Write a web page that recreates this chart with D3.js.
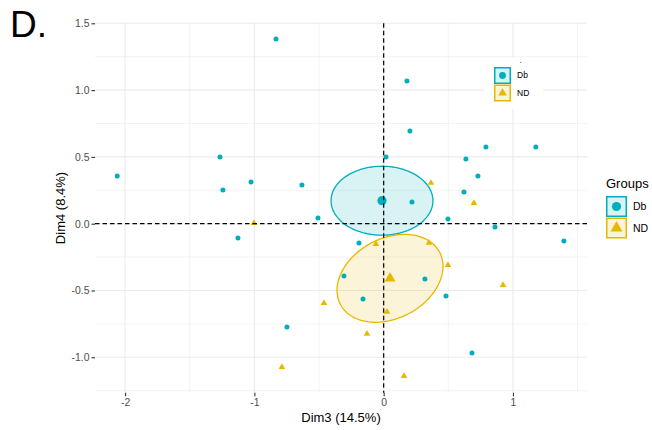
<!DOCTYPE html>
<html>
<head>
<meta charset="utf-8">
<script src="https://cdn.jsdelivr.net/npm/d3@7"></script>
<style>
  body { margin: 0; background: #fff; }
  text { font-family: "Liberation Sans", Arial, sans-serif; }
</style>
</head>
<body>
<div id="chart"></div>
<script>
// Individuals, Db group (Dim3, Dim4)
const dbX = [-0.833, -2.061, -1.266, -1.243, -1.026, -0.632, 0.018, 0.180, 0.203, 0.791,
             1.177, 0.636, 0.729, 0.621, 0.219, -0.508, -1.127, -0.191, -0.307, -0.160,
             -0.748, 0.497, 0.861, 1.394, 0.319, 0.482, 0.683];
const dbY = [1.383, 0.357, 0.499, 0.252, 0.312, 0.290, 0.499, 1.068, 0.694, 0.574,
             0.574, 0.484, 0.357, 0.237, 0.162, 0.043, -0.107, -0.144, -0.391, -0.563,
             -0.773, 0.035, -0.025, -0.129, -0.414, -0.541, -0.968];

// Individuals, ND group
const ndX = [0.366, 0.698, -1.003, -0.060, -0.462, 0.026, -0.129, -0.787, 0.350, 0.497, 0.923, 0.157];
const ndY = [0.305, 0.155, 0.005, -0.152, -0.594, -0.660, -0.825, -1.073, -0.144, -0.309, -0.459, -1.140];

// group means and ellipses (centre, half-extent x, half-extent y, correlation)
const groups = ["Db", "ND"];
const groupColors = ["#00AFBB", "#E7B800"];
const meanX = [-0.013, 0.049];
const meanY = [0.172, -0.409];
const ellSx = [0.394, 0.410];
const ellSy = [0.258, 0.329];
const ellR = [0.0, 0.273];

const xTicks = [-2, -1, 0, 1];
const yTicks = [-1.0, -0.5, 0.0, 0.5, 1.0, 1.5];
const xMinor = [-1.5, -0.5, 0.5, 1.5];
const yMinor = [-1.25, -0.75, -0.25, 0.25, 0.75, 1.25];

const W = 652, H = 430;
const panel = { left: 95, right: 587, top: 23.3, bottom: 392.7 };

const svg = d3.select("#chart").append("svg")
    .attr("width", W)
    .attr("height", H);

const x = d3.scaleLinear()
    .domain([-2.2328, 1.5727])
    .range([panel.left, panel.right]);

const y = d3.scaleLinear()
    .domain([-1.265, 1.5])
    .range([panel.bottom, panel.top]);

// grid
const grid = svg.append("g");
grid.selectAll(".xminor").data(xMinor).enter().append("line")
    .attr("x1", d => x(d)).attr("x2", d => x(d))
    .attr("y1", panel.top).attr("y2", panel.bottom)
    .attr("stroke", "#EBEBEB").attr("stroke-width", 0.6);
grid.selectAll(".yminor").data(yMinor).enter().append("line")
    .attr("y1", d => y(d)).attr("y2", d => y(d))
    .attr("x1", panel.left).attr("x2", panel.right)
    .attr("stroke", "#EBEBEB").attr("stroke-width", 0.6);
grid.selectAll(".xmajor").data(xTicks).enter().append("line")
    .attr("x1", d => x(d)).attr("x2", d => x(d))
    .attr("y1", panel.top).attr("y2", panel.bottom)
    .attr("stroke", "#EBEBEB").attr("stroke-width", 1.1);
grid.selectAll(".ymajor").data(yTicks).enter().append("line")
    .attr("y1", d => y(d)).attr("y2", d => y(d))
    .attr("x1", panel.left).attr("x2", panel.right)
    .attr("stroke", "#EBEBEB").attr("stroke-width", 1.1);

// axes
const xAxis = svg.append("g")
    .attr("transform", `translate(0,${panel.bottom})`)
    .call(d3.axisBottom(x).tickValues(xTicks).tickSize(3.5).tickPadding(2).tickFormat(d3.format("d")));
const yAxis = svg.append("g")
    .attr("transform", `translate(${panel.left},0)`)
    .call(d3.axisLeft(y).tickValues(yTicks).tickSize(3.5).tickPadding(2).tickFormat(d3.format(".1f")));
[xAxis, yAxis].forEach(a => {
    a.select(".domain").remove();
    a.selectAll(".tick line").attr("stroke", "#333333").attr("stroke-width", 1.1);
    a.selectAll(".tick text").attr("fill", "#4D4D4D")
        .style("font-size", "10.4px")
        .style("font-family", "'Liberation Sans', Arial, sans-serif")
        .text(function() { return this.textContent.replace("−", "-"); });
});

// ellipses
const line = d3.line().x(d => x(d[0])).y(d => y(d[1]));
const ts = d3.range(0, 2 * Math.PI + 0.01, Math.PI / 60);
groups.forEach((g, i) => {
    const pts = ts.map(t => [
        meanX[i] + ellSx[i] * Math.cos(t),
        meanY[i] + ellSy[i] * (ellR[i] * Math.cos(t) + Math.sqrt(1 - ellR[i] * ellR[i]) * Math.sin(t))
    ]);
    svg.append("path")
        .attr("d", line(pts) + "Z")
        .attr("fill", groupColors[i]).attr("fill-opacity", 0.15)
        .attr("stroke", groupColors[i]).attr("stroke-width", 1.3);
});

// points
const dbData = dbX.map((v, i) => [v, dbY[i]]);
const ndData = ndX.map((v, i) => [v, ndY[i]]);

svg.selectAll(".db").data(dbData).enter().append("circle")
    .attr("cx", d => x(d[0])).attr("cy", d => y(d[1]))
    .attr("r", 2.5).attr("fill", groupColors[0]);

const tri = d3.symbol().type(d3.symbolTriangle).size(19);
svg.selectAll(".nd").data(ndData).enter().append("path")
    .attr("transform", d => `translate(${x(d[0])},${y(d[1])})`)
    .attr("d", tri).attr("fill", groupColors[1]);

// group means
svg.append("circle")
    .attr("cx", x(meanX[0])).attr("cy", y(meanY[0]))
    .attr("r", 4.6).attr("fill", groupColors[0]);
svg.append("path")
    .attr("transform", `translate(${x(meanX[1])},${y(meanY[1])})`)
    .attr("d", d3.symbol().type(d3.symbolTriangle).size(52)).attr("fill", groupColors[1]);

// reference lines
svg.append("line")
    .attr("x1", x(0)).attr("x2", x(0)).attr("y1", panel.top).attr("y2", panel.bottom)
    .attr("stroke", "#000").attr("stroke-width", 1.2).attr("stroke-dasharray", "4.5,3");
svg.append("line")
    .attr("y1", y(0)).attr("y2", y(0)).attr("x1", panel.left).attr("x2", panel.right)
    .attr("stroke", "#000").attr("stroke-width", 1.2).attr("stroke-dasharray", "4.5,3");

// axis titles
svg.append("text")
    .attr("x", (panel.left + panel.right) / 2).attr("y", 422)
    .attr("text-anchor", "middle").style("font-size", "13px")
    .text("Dim3 (14.5%)");
svg.append("text")
    .attr("transform", `translate(64.5,${(panel.top + panel.bottom) / 2}) rotate(-90)`)
    .attr("text-anchor", "middle").style("font-size", "13px")
    .text("Dim4 (8.4%)");

// panel tag
svg.append("text")
    .attr("x", 10).attr("y", 37).style("font-size", "37px")
    .text("D.");

// legend drawing helper
function drawLegend(gx, gy, key, gap, fontSize, ptR, triSize) {
    const lg = svg.append("g").attr("transform", `translate(${gx},${gy})`);
    groups.forEach((g, i) => {
        const row = lg.append("g").attr("transform", `translate(0,${i * (key + gap)})`);
        row.append("rect")
            .attr("x", 0.75).attr("y", 0.75).attr("width", key - 1.5).attr("height", key - 1.5)
            .attr("fill", groupColors[i]).attr("fill-opacity", 0.15)
            .attr("stroke", groupColors[i]).attr("stroke-width", 1.5);
        if (i === 0) {
            row.append("circle").attr("cx", key / 2).attr("cy", key / 2).attr("r", ptR)
                .attr("fill", groupColors[i]);
        } else {
            row.append("path").attr("transform", `translate(${key / 2},${key / 2})`)
                .attr("d", d3.symbol().type(d3.symbolTriangle).size(triSize))
                .attr("fill", groupColors[i]);
        }
        row.append("text")
            .attr("x", key + 6).attr("y", key / 2).attr("dy", "0.35em")
            .style("font-size", fontSize + "px").text(g);
    });
    return lg;
}

// inset legend
svg.append("rect")
    .attr("x", 484).attr("y", 58).attr("width", 59).attr("height", 51)
    .attr("fill", "#fff");
svg.append("text").attr("x", 519.5).attr("y", 63).style("font-size", "8px").text(".");
drawLegend(494, 67, 17, 0.5, 8.5, 3.4, 32);

// right legend
svg.append("text")
    .attr("x", 606).attr("y", 188).style("font-size", "13px")
    .text("Groups");
drawLegend(606, 196, 21, 0.5, 10.5, 4.6, 62);
</script>
</body>
</html>
